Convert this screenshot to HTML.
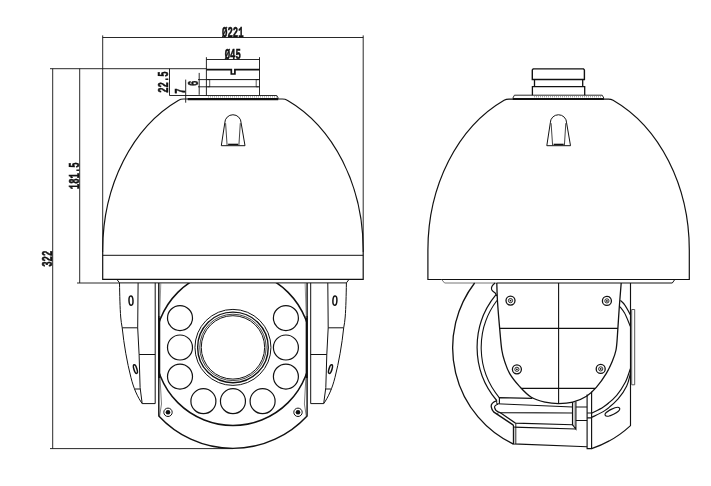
<!DOCTYPE html>
<html><head><meta charset="utf-8">
<style>
html,body{margin:0;padding:0;background:#fff;}
svg{display:block;}
text{font-family:"Liberation Mono","Liberation Sans",monospace;font-weight:bold;font-size:14.7px;fill:#111;}
</style></head><body>
<svg width="711" height="486" viewBox="0 0 711 486" fill="none" stroke="#111" stroke-width="1" stroke-linecap="butt">
<rect x="0" y="0" width="711" height="486" fill="#fff" stroke="none"/>
<defs>
<clipPath id="faceclip"><rect x="159" y="282.9" width="147.8" height="170"/></clipPath>
</defs>

<!-- ================= LEFT VIEW ================= -->
<g id="dims" stroke-width="0.9">
<path d="M102.7 35.4V252M363.2 35.4V252M102.7 37.5H363.2"/>
<path d="M50 68.7H206.5M52.7 68.7V448.6M50 448.6H233M79.7 68.7V283M77 283H119.5"/>
<path d="M169.5 68.7V95.5H188M199.2 72.9V94.8M198 79.6H206.5M198 86.8H206.5M185.7 79.6V102.7"/>
<path d="M206.4 57.2V95.5M259.5 57.2V95.5M206.4 59.5H259.5"/>
</g>
<g id="labels" stroke="#111" stroke-width="0.55" opacity="0.995">
<text transform="translate(232.8 36.9) scale(0.61 1)" text-anchor="middle">Ø221</text>
<text transform="translate(232.8 58.6) scale(0.61 1)" text-anchor="middle">Ø45</text>
<text transform="translate(52.3 258.8) rotate(-90) scale(0.61 1)" text-anchor="middle">322</text>
<text transform="translate(79 175.8) rotate(-90) scale(0.61 1)" text-anchor="middle">181.5</text>
<text transform="translate(167.8 82) rotate(-90) scale(0.61 1)" text-anchor="middle">22.5</text>
<text transform="translate(197.9 83.2) rotate(-90) scale(0.61 1)" text-anchor="middle">6</text>
<text transform="translate(184.8 91) rotate(-90) scale(0.61 1)" text-anchor="middle">7</text>
</g>

<g id="mountL">
<path d="M206.4 69.6H231.3V74H234.9V69.6H259.5" stroke-width="1.7"/>
<path d="M206.4 79.6H259.5M206.4 86.8H259.5"/>
<path d="M207.5 79.6h2.2v7.2h-2.2M258.4 79.6h-2.2v7.2h2.2" stroke-width="0.7"/>
<path d="M188 95.5H276.8L278.4 98.4" stroke-width="0.9"/>
<path d="M208 96.9H277" stroke="#666" stroke-width="0.8" stroke-dasharray="1 1"/>
<path d="M187.7 99.1H278.2" stroke-width="2.1"/>
</g>
<g id="domeL" stroke-width="1.2">
<path d="M102.7 279.4V250A130.25 164.8 0 0 1 178.65 100.2Q180.6 99 183.5 99H282.4Q285.3 99 287.25 100.2A130.25 164.8 0 0 1 363.2 250V279.4Z"/>
<path d="M102.7 255.3H363.2" stroke-width="1"/>
</g>
<g id="tabL">
<path d="M221.3 145.7L224.8 122.9A8.15 8.15 0 0 1 241.1 122.9L245 145.7Z"/>
<path d="M225.6 123.2L227.1 145.4M240.3 123.2L238.9 145.4" stroke-width="0.8"/>
<path d="M228.1 144.4H238.2" stroke-width="1.4"/>
</g>

<g id="underL">
<path d="M116.9 279.4L119.5 282.9H346.4L349 279.4"/>
</g>

<g id="bracketL">
<path d="M119.5 282.9C119.7 295 120 308 120.7 317C121 321 121.6 324.5 122.2 327.8C124 345 127 362 130.9 377.3C133.5 388 137.5 397 142.2 403.6H155.2"/>
<path d="M138.1 282.9L137.7 327.8L139.1 354.5L140.1 387.6L142.2 403.6"/>
<path d="M122.2 327.8H137.7M139.1 354.5H155.2M134.4 389H140.2"/>
<path d="M155.2 282.9V403.6"/>
<ellipse cx="131" cy="300.6" rx="2" ry="4.6" transform="rotate(-3 131 300.6)" stroke-width="1.5"/>
<ellipse cx="135.4" cy="369.1" rx="1.5" ry="4.5" transform="rotate(-17 135.4 369.1)" stroke-width="1.5"/>
</g>
<g id="bracketR">
<path d="M346.4 282.9C346.2 295 345.9 308 345.2 317C344.9 321 344.3 324.5 343.7 327.8C341.9 345 338.9 362 335 377.3C332.4 388 328.4 397 323.7 403.6H310.7"/>
<path d="M327.8 282.9L328.2 327.8L326.8 354.5L325.8 387.6L323.7 403.6"/>
<path d="M343.7 327.8H328.2M326.8 354.5H310.7M331.5 389H325.7"/>
<path d="M310.7 282.9V403.6"/>
<ellipse cx="334.9" cy="300.6" rx="2" ry="4.6" transform="rotate(3 334.9 300.6)" stroke-width="1.5"/>
<ellipse cx="330.5" cy="369.1" rx="1.5" ry="4.5" transform="rotate(17 330.5 369.1)" stroke-width="1.5"/>
</g>

<g id="housingL">
<path d="M159.8 374L161.5 404L159.6 416M306.1 374L304.4 404L306.3 416" stroke="#444" stroke-width="0.7"/>
<path d="M158.8 282.9V416A101 101 0 0 0 307.1 416V282.9" stroke-width="1.4"/>
<path d="M159.2 316V378M306.7 316V378" stroke-width="2.1"/>
<path d="M160.8 283L159.6 318M305.1 283L306.3 318" stroke="#666" stroke-width="0.7"/>
<circle cx="232.95" cy="347.5" r="78" clip-path="url(#faceclip)" stroke-width="1.5"/>
<circle cx="232.95" cy="347.4" r="38"/>
<circle cx="232.95" cy="347.4" r="35.3" stroke-width="1.4"/>
<circle cx="232.95" cy="347.4" r="33.2" stroke-width="0.8"/>
<circle cx="232.95" cy="347.4" r="31.7"/>
<g stroke-width="1.2">
<circle cx="180" cy="318.1" r="12.5"/><circle cx="180" cy="347.5" r="12.5"/><circle cx="180" cy="376.6" r="12.5"/>
<circle cx="285.9" cy="318.1" r="12.5"/><circle cx="285.9" cy="347.5" r="12.5"/><circle cx="285.9" cy="376.6" r="12.5"/>
<circle cx="203.4" cy="401.2" r="12.5"/><circle cx="232.95" cy="401.2" r="12.5"/><circle cx="262.6" cy="401.2" r="12.5"/>
</g>
<circle cx="168" cy="412.3" r="4.2"/><circle cx="168" cy="412.3" r="2.3" fill="#111" stroke="none"/>
<circle cx="298" cy="412.3" r="4.2"/><circle cx="298" cy="412.3" r="2.3" fill="#111" stroke="none"/>
</g>

<!-- ================= RIGHT VIEW ================= -->
<g id="mountR" stroke-width="1.3">
<path d="M532.3 79.5V70L533.2 68.9H583.5L584.4 70V79.5Z" stroke-width="1.4"/>
<path d="M534.5 79.5V86.7M582.7 79.5V86.7"/>
<path d="M532.4 95.3V86.7H584.7V95.3"/>
<path d="M514.4 95.2H602.2L603.9 98.2M512.8 98.2L514.4 95.2" stroke-width="0.9"/>
<path d="M534 96.8H602" stroke="#666" stroke-width="0.8" stroke-dasharray="1 1"/>
<path d="M512.8 99H603.9" stroke-width="2"/>
</g>
<g id="domeR" stroke-width="1.2">
<path d="M427.9 279.5V250A130.7 164.8 0 0 1 504.1 100.2Q506.1 99.1 509 99.1H608.2Q611.1 99.1 613.1 100.2A130.7 164.8 0 0 1 689.3 250V279.5Z"/>
</g>
<g id="tabR">
<path d="M546.8 145.7L550.3 122.9A8.15 8.15 0 0 1 566.6 122.9L570.5 145.7Z"/>
<path d="M551.1 123.2L552.6 145.4M565.8 123.2L564.4 145.4" stroke-width="0.8"/>
<path d="M553.6 144.4H563.7" stroke-width="1.4"/>
</g>
<g id="underR">
<path d="M441.6 279.5L444.6 283H496.8" stroke="#666" stroke-width="0.9"/>
<path d="M496.8 283H672.3L674.8 279.5"/>
</g>

<g id="bodyR" stroke-width="1.15">
<!-- outer circle arcs -->
<path d="M474.6 283A106.7 106.7 0 0 0 513.4 444.1" stroke-width="1.3"/>
<path d="M630.5 282.9V425.6A106.7 106.7 0 0 1 591.6 448.6"/>
<!-- inner left arcs -->
<path d="M496 294.7A82.3 82.3 0 0 0 496.7 400.5" stroke-width="1.2"/>
<path d="M496.9 300.5A78.4 78.4 0 0 0 499.4 397.8" stroke-width="1.1"/>
<!-- bump -->
<path d="M495.1 283C492.5 285 491 287.5 491.6 289.5C492.3 291.5 494.5 292.3 495.3 293.2L496.9 296"/>
<!-- U body -->
<path d="M496.8 283.0C496.9 286.3 497.1 295.6 497.6 303.0C498.1 310.4 498.9 319.8 499.6 327.6C500.3 335.4 500.9 344.3 501.8 350.0C502.7 355.7 503.5 357.9 504.8 361.8C506.1 365.7 507.2 369.5 509.7 373.6C512.1 377.7 515.9 382.4 519.5 386.4C523.1 390.3 527.0 394.7 531.3 397.3C535.6 399.9 540.6 401.1 545.1 402.2C549.6 403.2 553.9 403.6 558.5 403.6C563.1 403.6 568.0 403.4 572.7 402.2C577.4 401.0 582.6 398.8 586.5 396.3C590.4 393.8 593.0 391.2 596.3 387.4C599.6 383.6 603.6 377.9 606.2 373.6C608.8 369.3 610.5 365.7 612.1 361.8C613.7 357.9 615.1 354.6 616.0 350.0C616.9 345.4 617.0 341.4 617.5 334.2C618.0 327.0 618.7 315.5 619.3 307.0C619.9 298.5 620.9 287.0 621.2 283.0" stroke-width="1.3"/>
<path d="M558.6 283V403.6" stroke-width="1.1"/>
<path d="M499.7 328.3H618M521.5 388.4H595.3"/>
<!-- screws -->
<g>
<circle cx="510.5" cy="300.6" r="4.5" stroke-width="1.3"/><circle cx="510.5" cy="300.6" r="2.1" stroke-width="0.9"/><circle cx="510.5" cy="300.6" r="0.9" fill="#111" stroke="none"/>
<circle cx="606.9" cy="300.9" r="4.5" stroke-width="1.3"/><circle cx="606.9" cy="300.9" r="2.1" stroke-width="0.9"/><circle cx="606.9" cy="300.9" r="0.9" fill="#111" stroke="none"/>
<circle cx="516.9" cy="369.3" r="4.5" stroke-width="1.3"/><circle cx="516.9" cy="369.3" r="2.1" stroke-width="0.9"/><circle cx="516.9" cy="369.3" r="0.9" fill="#111" stroke="none"/>
<circle cx="600.7" cy="368.9" r="4.5" stroke-width="1.3"/><circle cx="600.7" cy="368.9" r="2.1" stroke-width="0.9"/><circle cx="600.7" cy="368.9" r="0.9" fill="#111" stroke="none"/>
</g>
<!-- right inner arcs -->
<path d="M620.4 300.4C621.1 301.1 623.1 302.5 624.7 304.9C626.4 307.3 629.4 313.0 630.3 314.6M619.8 306.5C620.6 307.6 623.0 310.0 624.7 313.3C626.5 316.6 629.4 324.1 630.3 326.3"/>
<path d="M630.4 368.7C629.5 371.0 627.6 377.9 625.3 382.3C623.0 386.7 620.3 391.2 616.7 395.3C613.1 399.4 607.9 403.8 603.7 406.8C599.5 409.8 593.6 412.2 591.6 413.3"/>
<path d="M630.4 373.7C629.8 375.7 628.8 381.7 626.7 385.9C624.7 390.1 621.7 394.8 618.1 398.9C614.5 403.0 609.5 407.3 605.1 410.4C600.7 413.5 593.9 416.2 591.6 417.4"/>
<!-- side plate -->
<path d="M631.7 309.5H634.7V384.8H631.7Z" stroke="#444" stroke-width="0.9"/>
<!-- ellipse hole -->
<ellipse cx="612.4" cy="411.8" rx="8" ry="2.7" transform="rotate(-26 612.4 411.8)"/>
<!-- post -->
<path d="M587.1 394.5V448.6H591.6V391.5"/>
<path d="M587.1 413H591.6M587.1 417.8H591.6"/>
<!-- shelf -->
<path d="M499.4 403.7V397.7L532.3 398.4"/>
<path d="M496.7 403.7V400.3" stroke-width="0.9"/>
<path d="M496.7 403.8L572.5 407"/>
<path d="M497 400.6C493 402 490.8 404 491.2 406.6C491.6 409 492.4 410.6 493.6 411.9L513.4 425.1" stroke-width="1.3"/>
<path d="M498 404.3C495.6 405 494.3 406.2 494.6 407.6C495 409.8 496.6 411.2 498.6 412L500 412.6L572.5 413"/>
<path d="M500 412.6L515.4 423.1L572.8 424.7"/>
<path d="M496.4 413.7L499.4 412.4" stroke-width="0.8"/>
<path d="M513.4 427.1L575.9 429"/>
<path d="M572.5 402V424.7L575.9 429V401.5"/>
<path d="M574.2 402V427" stroke="#777" stroke-width="0.7"/>
<path d="M575.9 407H587.1M575.9 420.5H587.1"/>
<path d="M513.4 425.1V443.9L587.1 446.7"/>
<path d="M515.8 423.4V444" stroke-width="0.9"/>
<path d="M514.6 427.2V443.9" stroke="#999" stroke-width="0.6"/>
</g>
</svg>
</body></html>
